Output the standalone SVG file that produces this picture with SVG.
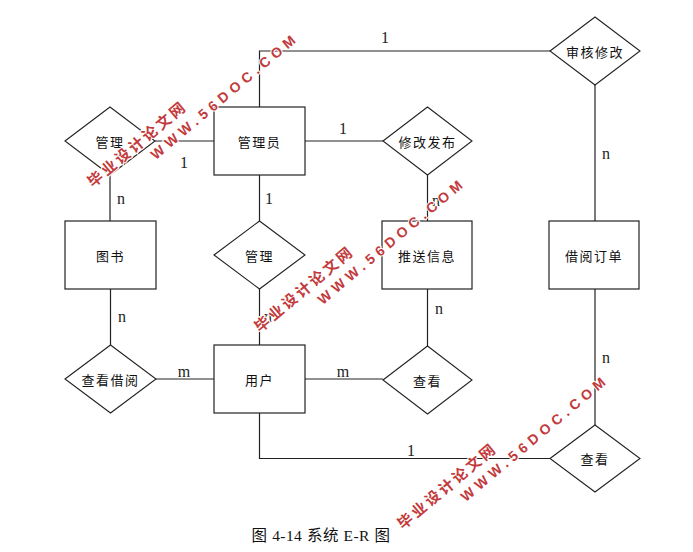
<svg xmlns="http://www.w3.org/2000/svg" width="693" height="552" viewBox="0 0 693 552">
<style>
.box{fill:#fff;stroke:#222;stroke-width:1.2}
.rel{fill:#fff;stroke:#222;stroke-width:1.1}
.ln{fill:none;stroke:#222;stroke-width:1.2}
.t{font-family:"Noto Sans CJK SC","Liberation Sans",sans-serif;font-size:13px;letter-spacing:1.5px;fill:#111;text-anchor:middle;dominant-baseline:central}
.c{font-family:"Liberation Serif",serif;font-size:16px;fill:#222;text-anchor:middle}
.cap{font-family:"Liberation Serif","Noto Sans CJK SC",serif;font-size:15.5px;letter-spacing:0.4px;word-spacing:0.5px;fill:#111;text-anchor:middle}
.wm1{font-family:"Noto Sans CJK SC",sans-serif;font-size:15px;font-weight:bold;letter-spacing:2.8px;fill:#c23a3c;stroke:#fff;stroke-width:2;paint-order:stroke}
.wm2{font-family:"Liberation Sans",sans-serif;font-size:14px;font-weight:bold;letter-spacing:4.8px;fill:#c23a3c;stroke:#fff;stroke-width:2;paint-order:stroke}
</style>
<rect width="693" height="552" fill="#fff"/>
<g id="connectors">
<path class="ln" d="M259.5,107 V51 H550"/>
<path class="ln" d="M155,141 H214"/>
<path class="ln" d="M110,175 V221"/>
<path class="ln" d="M305,141 H383"/>
<path class="ln" d="M427.5,175 V221"/>
<path class="ln" d="M259.5,175 V221"/>
<path class="ln" d="M259.5,289 V345"/>
<path class="ln" d="M110.5,289 V345"/>
<path class="ln" d="M156,379 H214"/>
<path class="ln" d="M305,379 H383"/>
<path class="ln" d="M427.5,289 V346"/>
<path class="ln" d="M595,85 V221"/>
<path class="ln" d="M595,289 V425"/>
<path class="ln" d="M259.5,413 V458.5 H550"/>
<text class="c" x="385" y="43">1</text>
<text class="c" x="184" y="168">1</text>
<text class="c" x="121" y="204">n</text>
<text class="c" x="343" y="134">1</text>
<text class="c" x="269" y="204">1</text>
<text class="c" x="436" y="206">n</text>
<text class="c" x="606" y="159">n</text>
<text class="c" x="439" y="314">n</text>
<text class="c" x="122" y="322">n</text>
<text class="c" x="268" y="322">n</text>
<text class="c" x="184" y="377">m</text>
<text class="c" x="343" y="377">m</text>
<text class="c" x="606" y="363">n</text>
<text class="c" x="411" y="456">1</text>
</g>
<g id="shenhexiugai"><polygon class="rel" points="550,51 595,17 640,51 595,85"/><text class="t" x="595" y="51">审核修改</text></g>
<g id="guanli1"><polygon class="rel" points="65,141 110,107 155,141 110,175"/><text class="t" x="110" y="141">管理</text></g>
<g id="guanliyuan"><rect class="box" x="214" y="107" width="91" height="68"/><text class="t" x="259.5" y="141">管理员</text></g>
<g id="xiugaifabu"><polygon class="rel" points="383,141 427.5,107 472,141 427.5,175"/><text class="t" x="427.5" y="141">修改发布</text></g>
<g id="tushu"><rect class="box" x="65" y="221" width="91" height="68"/><text class="t" x="110.5" y="255">图书</text></g>
<g id="guanli2"><polygon class="rel" points="214,255 259.5,221 305,255 259.5,289"/><text class="t" x="259.5" y="255">管理</text></g>
<g id="tuisongxinxi"><rect class="box" x="382" y="221" width="90" height="68"/><text class="t" x="427" y="255">推送信息</text></g>
<g id="jieyuedingdan"><rect class="box" x="549" y="221" width="90" height="68"/><text class="t" x="594" y="255">借阅订单</text></g>
<g id="chakanjieyue"><polygon class="rel" points="65,379 110.5,345 156,379 110.5,413"/><text class="t" x="110.5" y="379">查看借阅</text></g>
<g id="yonghu"><rect class="box" x="214" y="345" width="91" height="68"/><text class="t" x="259.5" y="379">用户</text></g>
<g id="chakan1"><polygon class="rel" points="383,380 427.5,346 472,380 427.5,414"/><text class="t" x="427.5" y="380">查看</text></g>
<g id="chakan2"><polygon class="rel" points="550,458.5 595,425 640,458.5 595,492"/><text class="t" x="595" y="458.5">查看</text></g>
<text class="cap" x="321" y="541">图 4-14 系统 E-R 图</text>
<g id="watermarks">
<g transform="translate(93,188) rotate(-40)"><text class="wm1" x="0" y="0">毕业设计论文网</text><text class="wm2" x="66" y="19">WWW.56DOC.COM</text></g>
<g transform="translate(260,333) rotate(-40)"><text class="wm1" x="0" y="0">毕业设计论文网</text><text class="wm2" x="66" y="19">WWW.56DOC.COM</text></g>
<g transform="translate(403,530) rotate(-40)"><text class="wm1" x="0" y="0">毕业设计论文网</text><text class="wm2" x="66" y="19">WWW.56DOC.COM</text></g>
</g>
</svg>
